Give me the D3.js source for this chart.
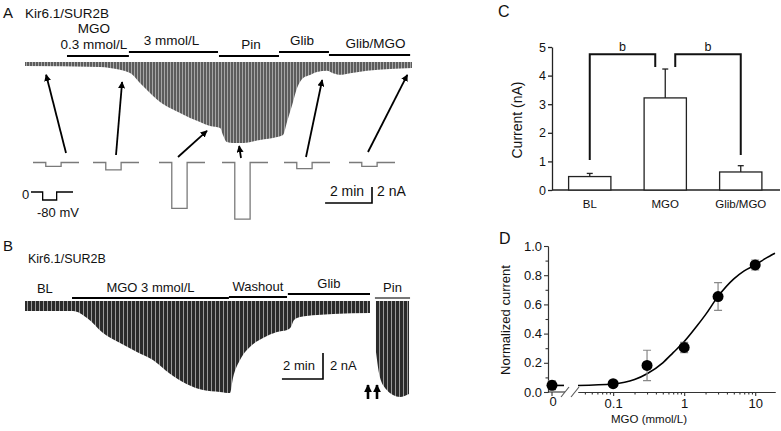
<!DOCTYPE html>
<html>
<head>
<meta charset="utf-8">
<script src="https://cdn.jsdelivr.net/npm/d3@7"></script>
<style>
body { margin: 0; background: #fff; }
svg { display: block; font-family: "Liberation Sans", Arial, sans-serif; }
</style>
</head>
<body>
<svg id="fig" width="781" height="431"></svg>
<script>
// ---- panel A: envelope of the -80 mV step currents (min, nA)
const traceATime = [0, 3.2, 3.62, 4.48, 4.9, 5.33, 5.76, 6.18, 6.61, 7.04, 7.46, 7.89, 8.32, 8.44, 8.61, 8.87, 9.3, 10.02, 10.75, 11.0, 11.17, 11.39, 11.6, 11.86, 12.15, 12.45, 12.88, 13.13, 13.43, 13.86, 14.58, 16.5];
const traceACurrent = [-0.5, -0.62, -0.75, -1.38, -2.62, -3.88, -5.0, -5.75, -6.38, -7.0, -7.5, -8.0, -8.25, -9.12, -10.0, -10.12, -10.12, -9.75, -9.38, -9.12, -7.5, -5.38, -3.25, -2.0, -1.62, -1.25, -1.1, -1.4, -1.6, -1.4, -1.1, -0.75];
const solALabel = ["0.3 mmol/L", "3 mmol/L", "Pin", "Glib", "Glib/MGO"];
const solAStart = [1.79, 4.43, 8.27, 10.83, 12.96];
const solAEnd = [4.43, 8.23, 10.83, 12.96, 16.42];
// sample sweeps under the trace (peak current, nA) and the points the arrows mark
const sweepACurrent = [0.7, 1.3, 8.2, 10.1, 1.1, 0.7];
const arrowATime = [0.9, 4.14, 7.76, 9.13, 12.67, 16.3];
const arrowACurrent = [-1.6, -2.5, -8.6, -10.5, -2.25, -1.6];
// voltage protocol (relative time, step on/off)
const protoTime = [0, 1, 1, 2.2, 2.2, 3.6];
const protoLevel = [0, 0, 1, 1, 0, 0];

// ---- panel B
const traceBTime = [0, 2.34, 3.02, 3.8, 4.63, 5.45, 6.23, 7.06, 7.89, 8.67, 9.49, 9.98, 10.13, 10.47, 10.95, 11.59, 12.27, 12.76, 12.95, 13.1, 13.39, 14.22, 15.0, 16.8];
const traceBCurrent = [-0.77, -0.77, -1.31, -2.46, -3.23, -3.92, -4.54, -5.6, -6.4, -6.85, -7.0, -7.08, -5.9, -4.54, -3.54, -2.85, -2.38, -2.23, -2.0, -1.46, -1.23, -1.08, -1.0, -0.92];
const pinBTime = [17.09, 17.28, 17.62, 17.92, 18.26, 18.7];
const pinBCurrent = [-3.9, -5.85, -6.85, -7.23, -7.38, -7.15];
const solBLabel = ["MGO 3 mmol/L", "Washout", "Glib", "Pin"];
const solBStart = [2.29, 9.93, 12.8, 17.04];
const solBEnd = [9.93, 12.76, 16.8, 18.75];

// ---- panel C
const condC = ["BL", "MGO", "Glib/MGO"];
const meanC = [0.47, 3.22, 0.63];
const semC = [0.11, 1.01, 0.22];
const bracketFrom = ["BL", "MGO"];
const bracketTo = ["MGO", "Glib/MGO"];
const bracketFromLeg = [1.05, 4.3];
const bracketToLeg = [4.3, 1.22];
const bracketTop = 4.75;

// ---- panel D
const concD = [0, 0.1, 0.3, 1, 3, 10];
const normD = [0.046, 0.057, 0.182, 0.305, 0.654, 0.87];
const errD = [0.03, 0.01, 0.104, 0.035, 0.095, 0.034];
const fitConc = [0.032, 0.1, 0.2, 0.3, 0.5, 0.7, 1, 1.5, 2, 3, 5, 7, 10, 14, 19];
const fitNorm = [0.045, 0.055, 0.085, 0.125, 0.2, 0.27, 0.345, 0.45, 0.53, 0.655, 0.775, 0.83, 0.87, 0.915, 0.95];

const svg = d3.select("#fig");
const defs = svg.append("defs");

function stripes(id, w, dark, light, lw) {
  const p = defs.append("pattern").attr("id", id)
    .attr("patternUnits", "userSpaceOnUse").attr("width", w).attr("height", 8);
  p.append("rect").attr("width", w).attr("height", 8).attr("fill", dark);
  p.append("rect").attr("x", w - lw).attr("width", lw).attr("height", 8).attr("fill", light);
}
stripes("stripeA", 3, "#5c5c5c", "#a6a6a6", 1);
stripes("stripeB", 4, "#2a2a2a", "#9a9a9a", 1);

function marker(id, size) {
  defs.append("marker").attr("id", id)
    .attr("viewBox", "0 0 10 10").attr("refX", 9).attr("refY", 5)
    .attr("markerWidth", size).attr("markerHeight", size)
    .attr("markerUnits", "userSpaceOnUse").attr("orient", "auto")
    .append("path").attr("d", "M0,0L10,5L0,10Z").attr("fill", "#000");
}
marker("head", 7);
marker("headB", 8);

function txt(g, x, y, s, size, anchor) {
  return g.append("text").attr("x", x).attr("y", y)
    .attr("font-size", size).attr("text-anchor", anchor || "start")
    .attr("fill", "#111").text(s);
}

// =============== A ===============
const gA = svg.append("g");
txt(gA, 3, 18, "A", 15);
txt(gA, 25, 18, "Kir6.1/SUR2B", 13.5);

const xA = d3.scaleLinear().domain([0, 16.5]).range([25, 412]);
const yA = d3.scaleLinear().domain([0, -10]).range([62, 142]);

const ptsA = traceATime.map((t, i) => ({ t: t, v: traceACurrent[i] }));
gA.append("path").datum(ptsA)
  .attr("fill", "url(#stripeA)")
  .attr("d", d3.area().x(d => xA(d.t)).y0(yA(0)).y1(d => yA(d.v)).curve(d3.curveMonotoneX));

// solution bars
const barAY = [56, 52, 56, 52, 55];
const labelADx = [-4, -2, 2, -2, 6];
solALabel.forEach((s, i) => {
  gA.append("line").attr("x1", xA(solAStart[i])).attr("x2", xA(solAEnd[i]))
    .attr("y1", barAY[i]).attr("y2", barAY[i]).attr("stroke", "#000").attr("stroke-width", 2);
  txt(gA, (xA(solAStart[i]) + xA(solAEnd[i])) / 2 + labelADx[i], barAY[i] - 7, s, 13.5, "middle");
});
txt(gA, (xA(solAStart[0]) + xA(solAEnd[0])) / 2 - 4, 33, "MGO", 13.5, "middle");

// sample sweeps
const sweepX0 = [33, 93, 159, 222, 284, 349];
const sweepY0 = 162.5;
const sx = d3.scaleLinear().domain([0, 3.6]).range([0, 46]);
const sy = d3.scaleLinear().domain([0, 10]).range([0, 56]);
sweepACurrent.forEach((a, k) => {
  const pts = protoTime.map((t, i) => [sweepX0[k] + sx(t), sweepY0 + sy(a * protoLevel[i])]);
  gA.append("path").attr("d", d3.line()(pts))
    .attr("fill", "none").attr("stroke", "#7a7a7a").attr("stroke-width", 1.3);
});

// arrows
const arrowBaseX = [66, 116, 178, 241, 306, 368];
const arrowBaseY = [153, 155, 157, 158, 157, 152];
arrowATime.forEach((t, i) => {
  gA.append("line").attr("x1", arrowBaseX[i]).attr("y1", arrowBaseY[i])
    .attr("x2", xA(t)).attr("y2", yA(arrowACurrent[i]))
    .attr("stroke", "#000").attr("stroke-width", 1.8).attr("marker-end", "url(#head)");
});

// voltage protocol
const vx = d3.scaleLinear().domain([0, 3.6]).range([31, 73]);
gA.append("path")
  .attr("d", d3.line()(protoTime.map((t, i) => [vx(t), 192 + 8 * protoLevel[i]])))
  .attr("fill", "none").attr("stroke", "#000").attr("stroke-width", 1.3);
txt(gA, 22, 199, "0", 13);
txt(gA, 37, 217, "-80 mV", 13);

// scale bar A
const sbAx = 372;
gA.append("path")
  .attr("d", `M${sbAx - (xA(2) - xA(0))},203H${sbAx}V${203 - (yA(-2) - yA(0))}`)
  .attr("fill", "none").attr("stroke", "#000").attr("stroke-width", 1.6);
txt(gA, 347, 196, "2 min", 14, "middle");
txt(gA, 377, 196, "2 nA", 14);

// =============== B ===============
const gB = svg.append("g");
txt(gB, 3, 251, "B", 15);
txt(gB, 28, 263, "Kir6.1/SUR2B", 12.5);

const xB = d3.scaleLinear().domain([0, 16.8]).range([25, 370]);
const yB = d3.scaleLinear().domain([0, -8]).range([301, 405]);
const areaB = d3.area().x(d => xB(d.t)).y0(yB(0)).y1(d => yB(d.v)).curve(d3.curveMonotoneX);
gB.append("path").datum(traceBTime.map((t, i) => ({ t: t, v: traceBCurrent[i] })))
  .attr("fill", "url(#stripeB)").attr("d", areaB);
gB.append("path").datum(pinBTime.map((t, i) => ({ t: t, v: pinBCurrent[i] })))
  .attr("fill", "url(#stripeB)").attr("d", areaB);

const barBY = [298, 297, 294, 298];
solBLabel.forEach((s, i) => {
  gB.append("line").attr("x1", xB(solBStart[i])).attr("x2", xB(solBEnd[i]))
    .attr("y1", barBY[i]).attr("y2", barBY[i])
    .attr("stroke", i === 3 ? "#777" : "#000").attr("stroke-width", 2);
  txt(gB, (xB(solBStart[i]) + xB(solBEnd[i])) / 2, barBY[i] - 6, s, 13, "middle");
});
txt(gB, xB(0.97), 293, "BL", 13, "middle");

// double arrow before Pin
[368, 377].forEach(x => {
  gB.append("line").attr("x1", x).attr("x2", x).attr("y1", 399).attr("y2", 385)
    .attr("stroke", "#000").attr("stroke-width", 2.6).attr("marker-end", "url(#headB)");
});

// scale bar B
const sbBx = 323;
gB.append("path")
  .attr("d", `M${sbBx - (xB(2) - xB(0))},379H${sbBx}V${379 - (yB(-2) - yB(0))}`)
  .attr("fill", "none").attr("stroke", "#000").attr("stroke-width", 1.6);
txt(gB, 299, 370, "2 min", 13, "middle");
txt(gB, 330, 370, "2 nA", 13);

// =============== C ===============
const gC = svg.append("g");
txt(gC, 498, 17, "C", 16);
const xC = d3.scaleBand().domain(condC).range([552, 778.5]).paddingInner(0.44).paddingOuter(0.22);
const yC = d3.scaleLinear().domain([0, 5]).range([190, 47]);

const axC = gC.append("g").attr("transform", "translate(552,0)")
  .call(d3.axisLeft(yC).ticks(5).tickSize(4).tickSizeOuter(0).tickPadding(2));
const axCx = gC.append("g").attr("transform", "translate(0,190)")
  .call(d3.axisBottom(xC).tickSize(0).tickSizeOuter(0).tickPadding(10));
axCx.select(".domain").attr("d", "M552,0H780");
[axC, axCx].forEach(a => {
  a.selectAll("path,line").attr("stroke", "#222").attr("stroke-width", 1.3);
  a.selectAll("text").attr("font-family", "Liberation Sans, Arial, sans-serif").attr("fill", "#111");
});
axC.selectAll("text").attr("font-size", 12.5);
axCx.selectAll("text").attr("font-size", 11.5);

condC.forEach((c, i) => {
  const cx = xC(c) + xC.bandwidth() / 2;
  gC.append("line").attr("x1", cx).attr("x2", cx).attr("y1", yC(meanC[i])).attr("y2", yC(meanC[i] + semC[i]))
    .attr("stroke", "#222").attr("stroke-width", 1.3);
  gC.append("line").attr("x1", cx - 3).attr("x2", cx + 3).attr("y1", yC(meanC[i] + semC[i])).attr("y2", yC(meanC[i] + semC[i]))
    .attr("stroke", "#222").attr("stroke-width", 1.3);
  gC.append("rect").attr("x", xC(c)).attr("width", xC.bandwidth())
    .attr("y", yC(meanC[i])).attr("height", yC(0) - yC(meanC[i]))
    .attr("fill", "#fff").attr("stroke", "#222").attr("stroke-width", 1.3);
});
txt(gC, 517, 120, "Current (nA)", 14, "middle").attr("transform", "rotate(-90,517,120)").attr("dy", "0.35em");

const legDxFrom = [0, 10], legDxTo = [-10, 0];
bracketFrom.forEach((f, i) => {
  const x1 = xC(f) + xC.bandwidth() / 2 + legDxFrom[i];
  const x2 = xC(bracketTo[i]) + xC.bandwidth() / 2 + legDxTo[i];
  gC.append("path")
    .attr("d", `M${x1},${yC(bracketFromLeg[i])}V${yC(bracketTop)}H${x2}V${yC(bracketToLeg[i])}`)
    .attr("fill", "none").attr("stroke", "#111").attr("stroke-width", 2);
  txt(gC, (x1 + x2) / 2, yC(bracketTop) - 3, "b", 12.5, "middle");
});

// =============== D ===============
const gD = svg.append("g");
txt(gD, 499, 244, "D", 16);
const xD = d3.scaleLog().domain([0.032, 19]).range([578, 775]);
const yD = d3.scaleLinear().domain([0, 1]).range([392, 246]);
const zeroX = 552;
const xPos = c => (c === 0 ? zeroX : xD(c));

const axDy = gD.append("g").attr("transform", "translate(548,0)")
  .call(d3.axisLeft(yD).tickValues([0, 0.2, 0.4, 0.6, 0.8, 1.0]).tickFormat(d3.format(".1f"))
    .tickSize(4).tickSizeOuter(0).tickPadding(2));
const axDyMinor = gD.append("g").attr("transform", "translate(548,0)")
  .call(d3.axisLeft(yD).tickValues([0.1, 0.3, 0.5, 0.7, 0.9]).tickFormat("").tickSize(2.5).tickSizeOuter(0));
const majorD = [0.1, 1, 10];
const axDx = gD.append("g").attr("transform", "translate(0,392)")
  .call(d3.axisBottom(xD).tickValues(majorD).tickFormat(d => String(d)).tickSize(4).tickSizeOuter(0).tickPadding(3));
const axDxMinor = gD.append("g").attr("transform", "translate(0,392)")
  .call(d3.axisBottom(xD).tickValues(xD.ticks().filter(v => majorD.indexOf(v) < 0)).tickFormat("").tickSize(2.5).tickSizeOuter(0));
[axDy, axDyMinor, axDx, axDxMinor].forEach(a => {
  a.selectAll("path,line").attr("stroke", "#333").attr("stroke-width", 1.1);
  a.selectAll("text").attr("font-family", "Liberation Sans, Arial, sans-serif").attr("fill", "#111").attr("font-size", 13);
});
// zero segment and axis break
gD.append("line").attr("x1", 548).attr("x2", 565).attr("y1", 392).attr("y2", 392).attr("stroke", "#333").attr("stroke-width", 1.1);
gD.append("line").attr("x1", zeroX).attr("x2", zeroX).attr("y1", 392).attr("y2", 396).attr("stroke", "#333").attr("stroke-width", 1.1);
txt(gD, zeroX + 1, 406, "0", 13, "middle");
[561, 571].forEach(x => {
  gD.append("line").attr("x1", x).attr("y1", 397).attr("x2", x + 8).attr("y2", 387)
    .attr("stroke", "#555").attr("stroke-width", 1.1);
});

// fitted curve
gD.append("line").attr("x1", zeroX).attr("x2", 564).attr("y1", yD(fitNorm[0])).attr("y2", yD(fitNorm[0]))
  .attr("stroke", "#000").attr("stroke-width", 1.6);
gD.append("path").datum(fitConc.map((c, i) => ({ c: c, v: fitNorm[i] })))
  .attr("fill", "none").attr("stroke", "#000").attr("stroke-width", 1.6)
  .attr("d", d3.line().x(d => xD(d.c)).y(d => yD(d.v)).curve(d3.curveMonotoneX));

// error bars and points
concD.forEach((c, i) => {
  const x = xPos(c);
  const lo = yD(normD[i] - errD[i]), hi = yD(normD[i] + errD[i]);
  gD.append("path").attr("d", `M${x},${lo}V${hi}M${x - 4},${lo}H${x + 4}M${x - 4},${hi}H${x + 4}`)
    .attr("fill", "none").attr("stroke", "#888").attr("stroke-width", 1.2);
  gD.append("circle").attr("cx", x).attr("cy", yD(normD[i])).attr("r", 5.5).attr("fill", "#000");
});

txt(gD, 505, 320, "Normalized current", 13, "middle").attr("transform", "rotate(-90,505,320)").attr("dy", "0.35em");
txt(gD, 649, 423, "MGO (mmol/L)", 11.5, "middle");
</script>
</body>
</html>
